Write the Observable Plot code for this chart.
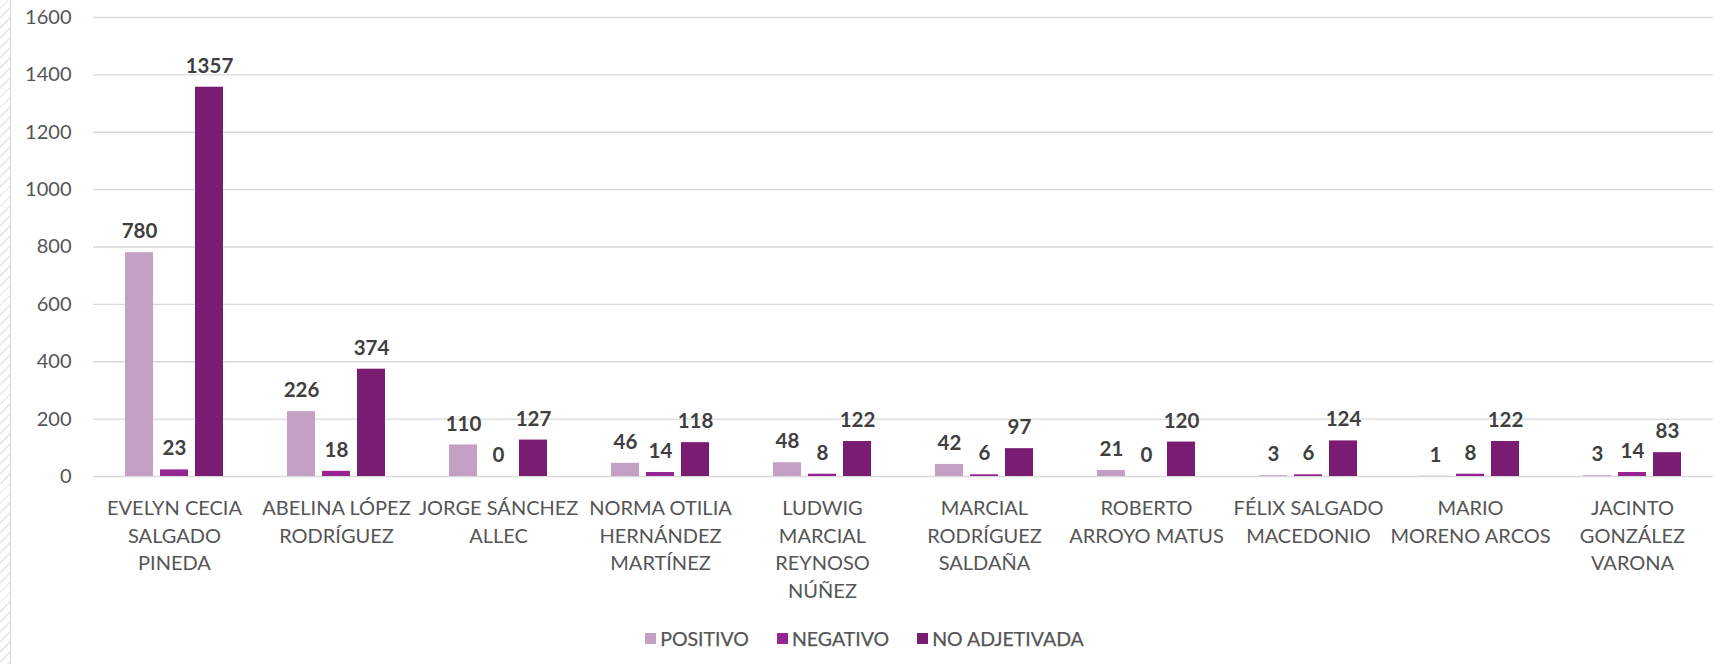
<!DOCTYPE html>
<html><head><meta charset="utf-8">
<script src="https://cdn.jsdelivr.net/npm/d3@7"></script>
<script src="https://cdn.jsdelivr.net/npm/@observablehq/plot@0.6"></script>
<style>
body{margin:0;background:#fff;font-family:Lato,sans-serif;}
#wrap{position:relative;width:1729px;height:664px;overflow:hidden;background:#fff;}
#edge{position:absolute;left:0;top:0;width:10px;height:664px;border-right:1px solid #d6d6d6;
 background:repeating-linear-gradient(135deg,#ffffff 0px,#ffffff 5px,#ececec 5px,#ececec 7px);}
#chart{position:absolute;left:0;top:0;}
#legend{position:absolute;left:0;top:622px;width:1729px;display:flex;justify-content:center;-webkit-text-stroke:0.25px #555555;}
#legend div[class$="-swatches"]{display:flex;align-items:center;margin:0;min-height:26px;}
#legend span[class$="-swatch"], #legend div[class$="-swatch"]{margin-right:28px;display:inline-flex;align-items:center;}
#legend span[class$="-swatch"]:last-child, #legend div[class$="-swatch"]:last-child{margin-right:0;}
#legend svg{margin-right:4px;}
</style></head><body>
<div id="wrap"><div id="edge"></div><div id="chart"></div><div id="legend"></div></div>
<script>
const candidates = [
  "EVELYN CECIA SALGADO PINEDA",
  "ABELINA LÓPEZ RODRÍGUEZ",
  "JORGE SÁNCHEZ ALLEC",
  "NORMA OTILIA HERNÁNDEZ MARTÍNEZ",
  "LUDWIG MARCIAL REYNOSO NÚÑEZ",
  "MARCIAL RODRÍGUEZ SALDAÑA",
  "ROBERTO ARROYO MATUS",
  "FÉLIX SALGADO MACEDONIO",
  "MARIO MORENO ARCOS",
  "JACINTO GONZÁLEZ VARONA"
];
const candidateLabels = [
  "EVELYN CECIA\nSALGADO\nPINEDA",
  "ABELINA LÓPEZ\nRODRÍGUEZ",
  "JORGE SÁNCHEZ\nALLEC",
  "NORMA OTILIA\nHERNÁNDEZ\nMARTÍNEZ",
  "LUDWIG\nMARCIAL\nREYNOSO\nNÚÑEZ",
  "MARCIAL\nRODRÍGUEZ\nSALDAÑA",
  "ROBERTO\nARROYO MATUS",
  "FÉLIX SALGADO\nMACEDONIO",
  "MARIO\nMORENO ARCOS",
  "JACINTO\nGONZÁLEZ\nVARONA"
];
const seriesNames = ["POSITIVO", "NEGATIVO", "NO ADJETIVADA"];
const positivo     = [780, 226, 110, 46, 48, 42, 21, 3, 1, 3];
const negativo     = [23, 18, 0, 14, 8, 6, 0, 6, 8, 14];
const noAdjetivada = [1357, 374, 127, 118, 122, 97, 120, 124, 122, 83];
const yTicks = [0, 200, 400, 600, 800, 1000, 1200, 1400, 1600];
const seriesColors = ["#C4A0C4", "#962493", "#7A1C71"];

const seriesValues = [positivo, negativo, noAdjetivada];
const data = candidates.flatMap((c, i) =>
  seriesNames.map((s, j) => ({candidate: c, series: s, value: seriesValues[j][i]}))
);
const labelOf = new Map(candidates.map((c, i) => [c, candidateLabels[i]]));

const FONT = "Lato, 'Noto Sans', sans-serif";
const TXT = "#555555";

const plot = Plot.plot({
  width: 1729,
  height: 610,
  marginLeft: 92,
  marginRight: 15,
  marginTop: 17,
  marginBottom: 134,
  style: {fontFamily: FONT, fontSize: "20px", color: TXT, background: "transparent"},
  fx: {domain: candidates, padding: 0, label: null},
  x: {domain: seriesNames, axis: null, paddingInner: 0.21, paddingOuter: 0.89},
  y: {domain: [0, 1600], label: null},
  color: {domain: seriesNames, range: seriesColors},
  marks: [
    Plot.gridY(yTicks, {stroke: "#D9D9D9", strokeOpacity: 1, strokeWidth: 1.3}),
    Plot.axisY(yTicks, {tickSize: 0, tickPadding: 22, label: null, fontSize: 20, fill: TXT,
      stroke: TXT, strokeWidth: 0.25, tickFormat: d => String(d)}),
    Plot.axisFx({anchor: "bottom", tickSize: 0, tickPadding: 19, label: null, fontSize: 20,
      lineHeight: 1.38, fill: TXT, stroke: TXT, strokeWidth: 0.25, tickFormat: c => labelOf.get(c)}),
    Plot.barY(data, {fx: "candidate", x: "series", y: "value", fill: "series"}),
    Plot.text(data, {fx: "candidate", x: "series", y: "value", text: d => String(d.value),
      dy: -21, fill: "#404040", fontWeight: "bold", fontSize: 20.5})
  ]
});
document.getElementById("chart").appendChild(plot);

const legend = Plot.legend({
  color: {domain: seriesNames, range: seriesColors},
  legend: "swatches",
  swatchSize: 11,
  style: {fontFamily: FONT, fontSize: "19.5px", color: TXT, margin: "0"}
});
document.getElementById("legend").appendChild(legend);
</script>
</body></html>
